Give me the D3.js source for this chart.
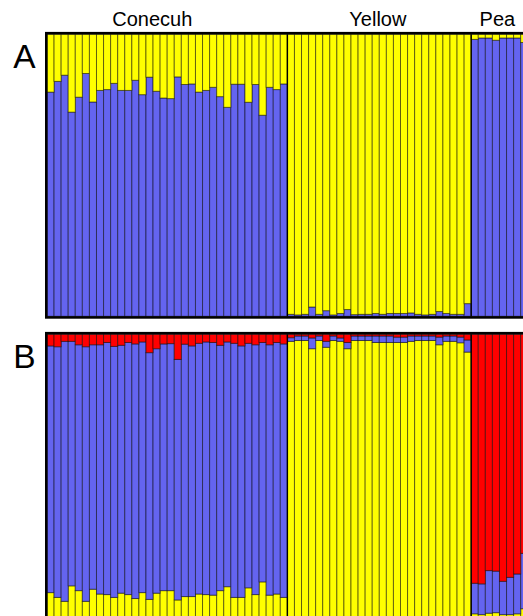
<!DOCTYPE html>
<html><head><meta charset="utf-8">
<script src="https://cdn.jsdelivr.net/npm/d3@7"></script>
<style>html,body{margin:0;padding:0;background:#fff;overflow:hidden}</style>
</head><body><svg id="c" width="523" height="616"></svg>
<script>
// ---- data ----
const groups = ["Conecuh", "Yellow", "Pea"];
const groupSizes = [34, 26, 8];
const panelLabels = ["A", "B"];

// Panel A (K=2)
const A_blue = [
  0.795,0.833,0.855,0.724,0.777,0.861,0.760,0.801,0.804,0.826,0.801,0.801,0.837,0.786,0.848,0.798,0.774,
  0.772,0.849,0.822,0.824,0.795,0.801,0.812,0.779,0.741,0.823,0.823,0.759,0.822,0.713,0.812,0.804,0.824,
  0.007,0.005,0.007,0.033,0.007,0.020,0.005,0.010,0.024,0.006,0.007,0.007,0.010,0.007,0.010,0.010,0.010,
  0.012,0.007,0.005,0.007,0.017,0.010,0.007,0.007,0.045,
  0.982,0.987,0.987,0.979,0.987,0.987,0.987,0.971];
const A_yellow = [
  0.205,0.167,0.145,0.276,0.223,0.139,0.240,0.199,0.196,0.174,0.199,0.199,0.163,0.214,0.152,0.202,0.226,
  0.228,0.151,0.178,0.176,0.205,0.199,0.188,0.221,0.259,0.177,0.177,0.241,0.178,0.287,0.188,0.196,0.176,
  0.993,0.995,0.993,0.967,0.993,0.980,0.995,0.990,0.976,0.994,0.993,0.993,0.990,0.993,0.990,0.990,0.990,
  0.988,0.993,0.995,0.993,0.983,0.990,0.993,0.993,0.955,
  0.018,0.013,0.013,0.021,0.013,0.013,0.013,0.029];

// Panel B (K=3)
const B_red = [
  0.041,0.044,0.025,0.025,0.037,0.044,0.037,0.037,0.029,0.043,0.039,0.029,0.034,0.027,0.065,0.051,0.034,
  0.033,0.089,0.035,0.041,0.032,0.027,0.029,0.039,0.027,0.032,0.041,0.032,0.037,0.029,0.037,0.029,0.034,
  0.012,0.006,0.006,0.013,0.006,0.025,0.006,0.013,0.029,0.006,0.006,0.006,0.006,0.006,0.006,0.010,0.010,
  0.006,0.006,0.006,0.006,0.010,0.006,0.006,0.010,0.020,
  0.882,0.884,0.837,0.839,0.875,0.861,0.849,0.776];
const B_blue = [
  0.874,0.888,0.921,0.866,0.871,0.902,0.866,0.883,0.893,0.889,0.878,0.893,0.902,0.888,0.874,0.866,0.874,
  0.875,0.852,0.894,0.888,0.888,0.895,0.895,0.869,0.867,0.900,0.891,0.866,0.885,0.848,0.887,0.891,0.898,
  0.013,0.016,0.016,0.038,0.016,0.021,0.016,0.012,0.022,0.016,0.016,0.016,0.023,0.023,0.023,0.019,0.019,
  0.019,0.016,0.016,0.016,0.027,0.019,0.019,0.020,0.043,
  0.108,0.109,0.151,0.147,0.118,0.132,0.141,0.196];
const B_yellow = [
  0.085,0.068,0.054,0.109,0.092,0.054,0.097,0.080,0.078,0.068,0.083,0.078,0.064,0.085,0.061,0.083,0.092,
  0.092,0.059,0.071,0.071,0.080,0.078,0.076,0.092,0.106,0.068,0.068,0.102,0.078,0.123,0.076,0.080,0.068,
  0.975,0.978,0.978,0.949,0.978,0.954,0.978,0.975,0.949,0.978,0.978,0.978,0.971,0.971,0.971,0.971,0.971,
  0.975,0.978,0.978,0.978,0.963,0.975,0.975,0.970,0.937,
  0.010,0.007,0.012,0.014,0.007,0.007,0.010,0.028];

// ---- drawing ----
const colors = {blue: "#6464f0", yellow: "#ffff00", red: "#ff0000"};
const svg = d3.select("#c");
const N = A_blue.length;
const barW = 7.07;
const x0 = 47;
const x = d3.scaleBand().domain(d3.range(N)).range([x0, x0 + N * barW]).padding(0);

const panels = [
  {label: panelLabels[0], top: 34.3, bottom: 316.3, keys: ["blue", "yellow"],
   rows: d3.range(N).map(i => ({blue: A_blue[i], yellow: A_yellow[i]}))},
  {label: panelLabels[1], top: 334.3, bottom: 616.6, keys: ["yellow", "blue", "red"],
   rows: d3.range(N).map(i => ({red: B_red[i], blue: B_blue[i], yellow: B_yellow[i]}))}
];

// group boundaries
const bounds = [];
let acc = 0;
groupSizes.forEach(s => { acc += s; bounds.push(acc); });

panels.forEach(p => {
  const y = d3.scaleLinear().domain([0, 1]).range([p.bottom, p.top]);
  const series = d3.stack().keys(p.keys).order(d3.stackOrderNone)(p.rows);
  const g = svg.append("g");
  series.forEach(s => {
    g.selectAll(null).data(s).enter().append("rect")
      .attr("x", (d, i) => x(i))
      .attr("width", x.bandwidth())
      .attr("y", d => y(d[1]))
      .attr("height", d => Math.max(0, y(d[0]) - y(d[1])))
      .attr("fill", colors[s.key])
      .attr("stroke", "rgba(0,0,0,0.5)")
      .attr("stroke-width", 1);
  });
  // group separators
  bounds.slice(0, -1).forEach(b => {
    g.append("line").attr("x1", x(b)).attr("x2", x(b))
      .attr("y1", p.top).attr("y2", p.bottom)
      .attr("stroke", "#000").attr("stroke-width", 1.4);
  });
  // frame
  g.append("rect").attr("x", x0 - 0.7).attr("y", p.top - 1.1)
    .attr("width", 600).attr("height", p.bottom - p.top + 2.2)
    .attr("fill", "none").attr("stroke", "#000").attr("stroke-width", 2.6);
  // panel label
  svg.append("text").attr("x", 13.3).attr("y", p.top + 34)
    .attr("font-family", "Liberation Sans, Arial, sans-serif")
    .attr("font-size", 33.5).attr("fill", "#000").text(p.label);
});

// group labels
const labelAnchor = [14.9, 46.8, 63.7];
groups.forEach((gname, i) => {
  svg.append("text").attr("x", x0 + labelAnchor[i] * barW).attr("y", 26)
    .attr("text-anchor", "middle")
    .attr("font-family", "Liberation Sans, Arial, sans-serif")
    .attr("font-size", 20).attr("fill", "#000").text(gname);
});
</script>
</body></html>
